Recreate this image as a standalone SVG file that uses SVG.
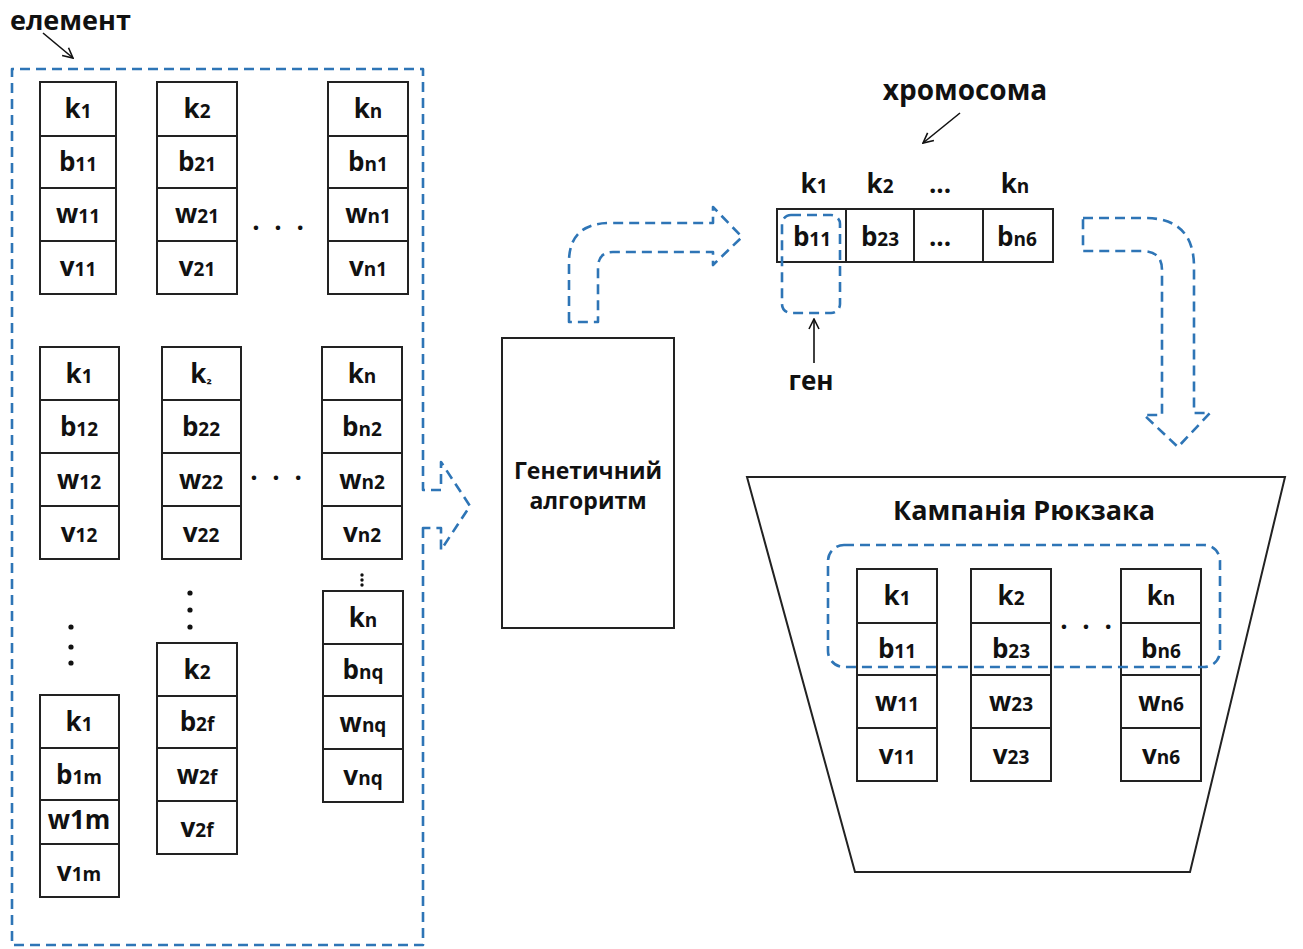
<svg xmlns="http://www.w3.org/2000/svg" width="1303" height="949" viewBox="0 0 1303 949">
<style>
.t{font-family:"Open Sans","Noto Sans","DejaVu Sans",sans-serif;font-weight:700;fill:#111;}
.c{font-size:26px;text-anchor:middle;}
.s{font-size:19px;}
.cell{fill:#fff;stroke:#222;stroke-width:2;}
.ln{stroke:#222;stroke-width:2;}
.dash{fill:none;stroke:#2E75B6;stroke-width:2.6;stroke-dasharray:10 6;stroke-linejoin:round;}
.ptr{fill:none;stroke:#111;stroke-width:1.6;}
.dot{fill:#111;}
</style>
<defs>
<marker id="open" viewBox="0 0 12 12" refX="11" refY="6" markerWidth="12" markerHeight="12" markerUnits="userSpaceOnUse" orient="auto">
<path d="M1,1 L11,6 L1,11" fill="none" stroke="#111" stroke-width="1.6"/>
</marker>
</defs>

<rect width="1303" height="949" fill="#fff"/>

<!-- element container -->
<g id="elements-box">
<path class="dash" d="M423 528 L423 945 L12 945 L12 69 L423 69 L423 490 L441 490 L441 462 L470 506 L441 550 L441 528 Z"/>
<text class="t" x="10" y="30" font-size="27">елемент</text>
</g>

<!-- top row -->
<g id="item-1-1">
<rect class="cell" x="40" y="82" width="76" height="212"/>
<line class="ln" x1="40" y1="136" x2="116" y2="136"/><line class="ln" x1="40" y1="188" x2="116" y2="188"/><line class="ln" x1="40" y1="241" x2="116" y2="241"/>
<text class="t c" x="78" y="118">k<tspan class="s">1</tspan></text>
<text class="t c" x="78" y="171">b<tspan class="s">11</tspan></text>
<text class="t c" x="78" y="223">w<tspan class="s">11</tspan></text>
<text class="t c" x="78" y="276">v<tspan class="s">11</tspan></text>
</g>
<g id="item-2-1">
<rect class="cell" x="157" y="82" width="80" height="212"/>
<line class="ln" x1="157" y1="136" x2="237" y2="136"/><line class="ln" x1="157" y1="188" x2="237" y2="188"/><line class="ln" x1="157" y1="241" x2="237" y2="241"/>
<text class="t c" x="197" y="118">k<tspan class="s">2</tspan></text>
<text class="t c" x="197" y="171">b<tspan class="s">21</tspan></text>
<text class="t c" x="197" y="223">w<tspan class="s">21</tspan></text>
<text class="t c" x="197" y="276">v<tspan class="s">21</tspan></text>
</g>
<g id="item-n-1">
<rect class="cell" x="328" y="82" width="80" height="212"/>
<line class="ln" x1="328" y1="136" x2="408" y2="136"/><line class="ln" x1="328" y1="188" x2="408" y2="188"/><line class="ln" x1="328" y1="241" x2="408" y2="241"/>
<text class="t c" x="368" y="118">k<tspan class="s">n</tspan></text>
<text class="t c" x="368" y="171">b<tspan class="s">n1</tspan></text>
<text class="t c" x="368" y="223">w<tspan class="s">n1</tspan></text>
<text class="t c" x="368" y="276">v<tspan class="s">n1</tspan></text>
</g>
<text class="t c" x="280" y="230" letter-spacing="4">. . .</text>

<!-- middle row -->
<g id="item-1-2">
<rect class="cell" x="40" y="347" width="79" height="212"/>
<line class="ln" x1="40" y1="400" x2="119" y2="400"/><line class="ln" x1="40" y1="453" x2="119" y2="453"/><line class="ln" x1="40" y1="506" x2="119" y2="506"/>
<text class="t c" x="79" y="383">k<tspan class="s">1</tspan></text>
<text class="t c" x="79" y="436">b<tspan class="s">12</tspan></text>
<text class="t c" x="79" y="489">w<tspan class="s">12</tspan></text>
<text class="t c" x="79" y="542">v<tspan class="s">12</tspan></text>
</g>
<g id="item-2-2">
<rect class="cell" x="162" y="347" width="79" height="212"/>
<line class="ln" x1="162" y1="400" x2="241" y2="400"/><line class="ln" x1="162" y1="453" x2="241" y2="453"/><line class="ln" x1="162" y1="506" x2="241" y2="506"/>
<text class="t c" x="201" y="383">k<tspan font-size="14">₂</tspan></text>
<text class="t c" x="201" y="436">b<tspan class="s">22</tspan></text>
<text class="t c" x="201" y="489">w<tspan class="s">22</tspan></text>
<text class="t c" x="201" y="542">v<tspan class="s">22</tspan></text>
</g>
<g id="item-n-2">
<rect class="cell" x="322" y="347" width="80" height="212"/>
<line class="ln" x1="322" y1="400" x2="402" y2="400"/><line class="ln" x1="322" y1="453" x2="402" y2="453"/><line class="ln" x1="322" y1="506" x2="402" y2="506"/>
<text class="t c" x="362" y="383">k<tspan class="s">n</tspan></text>
<text class="t c" x="362" y="436">b<tspan class="s">n2</tspan></text>
<text class="t c" x="362" y="489">w<tspan class="s">n2</tspan></text>
<text class="t c" x="362" y="542">v<tspan class="s">n2</tspan></text>
</g>
<text class="t c" x="278" y="480" letter-spacing="4">. . .</text>

<!-- bottom row -->
<g id="item-1-m">
<rect class="cell" x="40" y="695" width="79" height="202"/>
<line class="ln" x1="40" y1="748" x2="119" y2="748"/><line class="ln" x1="40" y1="800" x2="119" y2="800"/><line class="ln" x1="40" y1="844" x2="119" y2="844"/>
<text class="t c" x="79" y="731">k<tspan class="s">1</tspan></text>
<text class="t c" x="79" y="784">b<tspan class="s">1m</tspan></text>
<text class="t c" x="79" y="829" font-size="20">w1m</text>
<text class="t c" x="79" y="881">v<tspan class="s">1m</tspan></text>
</g>
<g id="item-2-f">
<rect class="cell" x="157" y="643" width="80" height="211"/>
<line class="ln" x1="157" y1="696" x2="237" y2="696"/><line class="ln" x1="157" y1="748" x2="237" y2="748"/><line class="ln" x1="157" y1="801" x2="237" y2="801"/>
<text class="t c" x="197" y="679">k<tspan class="s">2</tspan></text>
<text class="t c" x="197" y="731">b<tspan class="s">2f</tspan></text>
<text class="t c" x="197" y="784">w<tspan class="s">2f</tspan></text>
<text class="t c" x="197" y="837">v<tspan class="s">2f</tspan></text>
</g>
<g id="item-n-q">
<rect class="cell" x="323" y="591" width="80" height="211"/>
<line class="ln" x1="323" y1="644" x2="403" y2="644"/><line class="ln" x1="323" y1="696" x2="403" y2="696"/><line class="ln" x1="323" y1="749" x2="403" y2="749"/>
<text class="t c" x="363" y="627">k<tspan class="s">n</tspan></text>
<text class="t c" x="363" y="679">b<tspan class="s">nq</tspan></text>
<text class="t c" x="363" y="732">w<tspan class="s">nq</tspan></text>
<text class="t c" x="363" y="785">v<tspan class="s">nq</tspan></text>
</g>
<g id="vdots">
<circle class="dot" cx="71" cy="627" r="2.6"/><circle class="dot" cx="71" cy="647" r="2.6"/><circle class="dot" cx="71" cy="663" r="2.6"/>
<circle class="dot" cx="190" cy="593" r="2.6"/><circle class="dot" cx="190" cy="610" r="2.6"/><circle class="dot" cx="190" cy="627" r="2.6"/>
<circle class="dot" cx="362" cy="575" r="1.7"/><circle class="dot" cx="362" cy="580" r="1.7"/><circle class="dot" cx="362" cy="585" r="1.7"/>
</g>

<!-- genetic algorithm -->
<g id="ga">
<rect class="cell" x="502" y="338" width="172" height="290"/>
<text class="t" x="588" y="479" font-size="23" text-anchor="middle">Генетичний</text>
<text class="t" x="588" y="509" font-size="23" text-anchor="middle">алгоритм</text>
</g>

<!-- chromosome -->
<g id="chromosome">
<rect class="cell" x="777" y="209" width="276" height="53"/>
<line class="ln" x1="846" y1="209" x2="846" y2="262"/><line class="ln" x1="914" y1="209" x2="914" y2="262"/><line class="ln" x1="983" y1="209" x2="983" y2="262"/>
<text class="t c" x="814" y="193">k<tspan class="s">1</tspan></text>
<text class="t c" x="880" y="193">k<tspan class="s">2</tspan></text>
<text class="t c" x="940" y="193">...</text>
<text class="t c" x="1015" y="193">k<tspan class="s">n</tspan></text>
<text class="t c" x="812" y="246">b<tspan class="s">11</tspan></text>
<text class="t c" x="880" y="246">b<tspan class="s">23</tspan></text>
<text class="t c" x="940" y="246">...</text>
<text class="t c" x="1017" y="246">b<tspan class="s">n6</tspan></text>
<text class="t" x="965" y="100" font-size="28" text-anchor="middle">хромосома</text>
</g>
<g id="gene">
<rect class="dash" x="782" y="215" width="58" height="98" rx="9"/>
<text class="t" x="811" y="390" font-size="26" text-anchor="middle">ген</text>
</g>

<!-- knapsack -->
<g id="knapsack">
<path d="M747 477 L1285 477 L1190 872 L855 872 Z" fill="#fff" stroke="#222" stroke-width="2"/>
<text class="t" x="1024" y="520" font-size="27" text-anchor="middle">Кампанія Рюкзака</text>
</g>
<g id="ks-item-1">
<rect class="cell" x="857" y="569" width="80" height="212"/>
<line class="ln" x1="857" y1="623" x2="937" y2="623"/><line class="ln" x1="857" y1="675" x2="937" y2="675"/><line class="ln" x1="857" y1="728" x2="937" y2="728"/>
<text class="t c" x="897" y="605">k<tspan class="s">1</tspan></text>
<text class="t c" x="897" y="658">b<tspan class="s">11</tspan></text>
<text class="t c" x="897" y="711">w<tspan class="s">11</tspan></text>
<text class="t c" x="897" y="764">v<tspan class="s">11</tspan></text>
</g>
<g id="ks-item-2">
<rect class="cell" x="971" y="569" width="80" height="212"/>
<line class="ln" x1="971" y1="623" x2="1051" y2="623"/><line class="ln" x1="971" y1="675" x2="1051" y2="675"/><line class="ln" x1="971" y1="728" x2="1051" y2="728"/>
<text class="t c" x="1011" y="605">k<tspan class="s">2</tspan></text>
<text class="t c" x="1011" y="658">b<tspan class="s">23</tspan></text>
<text class="t c" x="1011" y="711">w<tspan class="s">23</tspan></text>
<text class="t c" x="1011" y="764">v<tspan class="s">23</tspan></text>
</g>
<g id="ks-item-n">
<rect class="cell" x="1121" y="569" width="80" height="212"/>
<line class="ln" x1="1121" y1="623" x2="1201" y2="623"/><line class="ln" x1="1121" y1="675" x2="1201" y2="675"/><line class="ln" x1="1121" y1="728" x2="1201" y2="728"/>
<text class="t c" x="1161" y="605">k<tspan class="s">n</tspan></text>
<text class="t c" x="1161" y="658">b<tspan class="s">n6</tspan></text>
<text class="t c" x="1161" y="711">w<tspan class="s">n6</tspan></text>
<text class="t c" x="1161" y="764">v<tspan class="s">n6</tspan></text>
</g>
<text class="t c" x="1088" y="629" letter-spacing="4">. . .</text>
<g id="selection">
<rect class="dash" x="828" y="545" width="392" height="122" rx="16"/>
</g>

<!-- connectors -->
<g id="connectors">
<path class="dash" d="M569 322 L569 262 Q569 223 610 223 L713 223 L713 207 L742 237 L713 265 L713 252 L613 252 Q598 252 598 268 L598 322 Z"/>
<path class="dash" d="M1083 218 L1145 218 Q1194 218 1194 267 L1194 413 L1210 413 L1178 447 L1144 415 L1162 415 L1162 270 Q1162 251 1142 251 L1083 251 Z"/>
<line class="ptr" x1="43" y1="33" x2="73" y2="58" marker-end="url(#open)"/>
<line class="ptr" x1="960" y1="113" x2="923" y2="143" marker-end="url(#open)"/>
<line class="ptr" x1="814" y1="363" x2="814" y2="319" marker-end="url(#open)"/>
</g>
</svg>
